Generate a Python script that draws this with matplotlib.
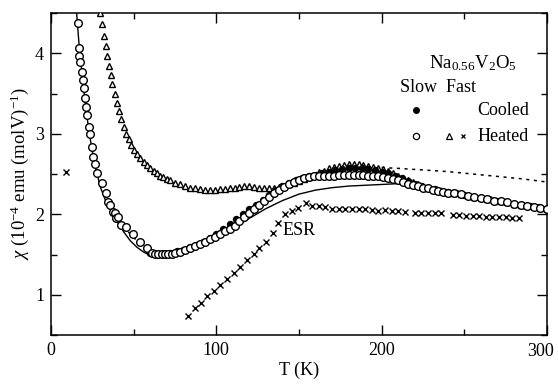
import matplotlib
matplotlib.use("Agg")
import matplotlib.pyplot as plt
from matplotlib.ticker import MultipleLocator, FuncFormatter

plt.rcParams['font.family'] = ['Liberation Serif', 'DejaVu Serif']
plt.rcParams['mathtext.fontset'] = 'custom'
plt.rcParams['mathtext.rm'] = 'Liberation Serif'
plt.rcParams['mathtext.it'] = 'Liberation Serif:italic'

# Slow heated (open circles)
T_open = [16.1, 16.9, 17.2, 17.5, 18.5, 19.2, 19.9, 20.5, 21.1, 21.9, 22.7, 23.5, 24.5,
          25.5, 26.5, 27.8, 30.6, 33.0, 34.6, 35.6, 37.6, 38.6, 39.6, 40.6, 42.6, 45.6,
          49.6, 54.0, 58, 61, 63, 65, 67, 69, 71, 73, 75, 78, 81, 84, 87, 90, 93, 96, 99,
          102, 105, 108, 111, 114, 117, 120, 123, 126, 129, 132, 135, 138, 141, 144, 147,
          150, 153, 156, 159, 162, 165, 168, 171, 174, 177, 180, 183, 186, 189, 192, 195,
          198, 201, 204, 207, 210, 213, 216, 219, 222, 225, 228, 231, 234, 237, 240, 244,
          248, 252, 256, 260, 264, 268, 272, 276, 280, 284, 288, 292, 296, 300]
chi_open = [4.37, 4.07, 3.97, 3.89, 3.77, 3.67, 3.57, 3.44, 3.33, 3.23, 3.08, 3.00, 2.84,
            2.71, 2.63, 2.51, 2.39, 2.26, 2.15, 2.12, 2.03, 2.02, 1.95, 1.96, 1.87, 1.84,
            1.75, 1.66, 1.58, 1.52, 1.51, 1.51, 1.51, 1.51, 1.51, 1.51, 1.52, 1.53, 1.55,
            1.58, 1.60, 1.63, 1.66, 1.69, 1.72, 1.76, 1.79, 1.82, 1.86, 1.91, 1.96, 2.01,
            2.06, 2.11, 2.16, 2.21, 2.26, 2.30, 2.34, 2.37, 2.40, 2.43, 2.45, 2.46, 2.47,
            2.47, 2.48, 2.48, 2.48, 2.49, 2.49, 2.49, 2.49, 2.49, 2.49, 2.48, 2.48, 2.47,
            2.46, 2.45, 2.44, 2.42, 2.40, 2.38, 2.36, 2.35, 2.33, 2.32, 2.30, 2.29, 2.28,
            2.27, 2.26, 2.25, 2.23, 2.22, 2.20, 2.19, 2.17, 2.16, 2.15, 2.13, 2.12, 2.10,
            2.09, 2.08, 2.06]

# Slow cooled (filled circles)
T_fill = [60, 64, 68, 72, 76, 80, 84, 88, 92, 96, 100, 104, 108, 112, 116, 120, 124, 128,
          132, 136, 140, 144, 148, 152, 156, 160, 164, 168, 172, 176, 180, 184, 188, 192,
          196, 200, 204, 208, 212, 216, 220, 224, 228, 232, 236, 240, 245, 250, 255, 260,
          265, 270, 275, 280, 285, 290, 295, 300]
chi_fill = [1.52, 1.51, 1.51, 1.52, 1.54, 1.56, 1.59, 1.62, 1.66, 1.71, 1.76, 1.82, 1.88,
            1.94, 2.00, 2.06, 2.12, 2.18, 2.24, 2.30, 2.35, 2.39, 2.42, 2.45, 2.47, 2.49,
            2.51, 2.53, 2.55, 2.56, 2.57, 2.57, 2.57, 2.56, 2.55, 2.53, 2.51, 2.48, 2.45,
            2.41, 2.38, 2.35, 2.33, 2.31, 2.29, 2.28, 2.26, 2.24, 2.22, 2.20, 2.19, 2.17,
            2.15, 2.13, 2.12, 2.10, 2.09, 2.07]

# Fast heated (triangles)
T_tri = [29.5, 31, 32, 33, 34, 35, 36, 37, 38.5, 40, 41, 42.5, 44, 45.5, 47, 48.5, 50, 52,
         54, 56, 58, 60, 62, 64, 66, 68, 70, 72, 75, 78, 81, 84, 87, 90, 93, 96, 99, 102,
         105, 108, 111, 114, 117, 120, 123, 126, 129, 132, 135, 138, 141, 144, 147, 150,
         153, 156, 159, 162, 165, 168, 171, 174, 177, 180, 183, 186, 189, 192, 195, 198,
         201, 204, 207, 210, 213, 216, 219, 222, 225, 228, 231, 234, 237, 240, 244, 248,
         252, 256, 260, 264, 268, 272, 276, 280, 284, 288, 292, 296, 300]
chi_tri = [4.50, 4.36, 4.21, 4.09, 3.96, 3.84, 3.73, 3.62, 3.50, 3.38, 3.28, 3.18, 3.08,
           3.00, 2.93, 2.86, 2.80, 2.75, 2.70, 2.65, 2.61, 2.57, 2.54, 2.51, 2.48, 2.46,
           2.44, 2.42, 2.39, 2.37, 2.35, 2.33, 2.32, 2.31, 2.30, 2.30, 2.30, 2.31, 2.31,
           2.32, 2.33, 2.34, 2.35, 2.35, 2.34, 2.33, 2.32, 2.32, 2.33, 2.34, 2.35, 2.37,
           2.39, 2.41, 2.44, 2.46, 2.49, 2.52, 2.54, 2.57, 2.59, 2.60, 2.61, 2.62, 2.62,
           2.62, 2.61, 2.60, 2.59, 2.58, 2.56, 2.54, 2.51, 2.48, 2.45, 2.42, 2.40, 2.37,
           2.35, 2.33, 2.31, 2.30, 2.29, 2.28, 2.27, 2.25, 2.24, 2.22, 2.21, 2.19, 2.18,
           2.16, 2.15, 2.13, 2.12, 2.11, 2.10, 2.08, 2.07]

# Fast heated ESR (crosses)
T_esr = [9, 83, 87, 90.5, 94.5, 98.5, 102.5, 106.5, 110.5, 114.5, 118.5, 122.5, 126, 130,
         134, 137.5, 141.5, 146, 149.5, 154, 158, 162, 166, 170, 174, 178, 182, 186, 190,
         194, 198, 202, 206, 210, 214, 220, 224, 228, 232, 236, 243, 247, 251, 255, 259,
         263, 267, 271, 275, 279, 283]
chi_esr = [2.53, 0.74, 0.83, 0.90, 0.98, 1.05, 1.12, 1.20, 1.27, 1.35, 1.43, 1.51, 1.58,
           1.66, 1.77, 1.89, 2.00, 2.04, 2.08, 2.14, 2.10, 2.10, 2.09, 2.07, 2.07, 2.07,
           2.06, 2.07, 2.07, 2.05, 2.04, 2.05, 2.04, 2.04, 2.03, 2.02, 2.02, 2.02, 2.02,
           2.01, 1.99, 1.99, 1.98, 1.98, 1.98, 1.97, 1.97, 1.96, 1.96, 1.95, 1.95]

# Theory curves
T_fit = [15.5, 17, 19, 21, 23, 25, 27, 30, 33, 36, 40, 44, 48, 52, 56, 60, 64, 68, 72, 80,
         90, 100, 110, 120, 130, 140, 150, 160, 170, 180, 190, 200, 210, 220, 230, 240,
         260, 280, 300]
chi_fit = [4.50, 4.10, 3.70, 3.33, 3.03, 2.78, 2.57, 2.33, 2.17, 2.05, 1.91, 1.78, 1.67,
           1.59, 1.53, 1.49, 1.47, 1.47, 1.48, 1.52, 1.60, 1.70, 1.82, 1.95, 2.07, 2.17,
           2.25, 2.30, 2.33, 2.35, 2.36, 2.37, 2.38, 2.36, 2.32, 2.28, 2.20, 2.13, 2.07]

T_dot_lo = [40, 45, 50, 55, 60, 65]
chi_dot_lo = [1.95, 1.82, 1.71, 1.62, 1.55, 1.51]
T_dot_hi = [200, 210, 225, 240, 255, 270, 285, 300]
chi_dot_hi = [2.58, 2.57, 2.55, 2.53, 2.50, 2.47, 2.44, 2.40]

fig = plt.figure(figsize=(5.58, 3.85), dpi=100)
ax = fig.add_axes([51/558, 50/385, 496/558, 322/385])

ax.plot(T_fit, chi_fit, '-', color='black', lw=1.0, zorder=2)
ax.plot(T_dot_lo, chi_dot_lo, ':', color='black', lw=1.2, zorder=2)
ax.plot(T_dot_hi, chi_dot_hi, linestyle=(0, (2, 3)), color='black', lw=1.1, zorder=2)

ax.plot(T_tri, chi_tri, '^', mfc='white', mec='black', ms=5.0, mew=1.0, ls='none', zorder=3)
ax.plot(T_fill, chi_fill, 'o', mfc='black', mec='black', ms=4.5, mew=0.8, ls='none', zorder=3)
ax.plot(T_open, chi_open, 'o', mfc='white', mec='black', ms=5.5, mew=1.0, ls='none', zorder=4)
ax.plot(T_esr, chi_esr, 'x', color='black', ms=3.8, mew=1.0, ls='none', zorder=3)

ax.set_xlim(0, 300)
ax.set_ylim(0.5, 4.5)
ax.xaxis.set_major_locator(MultipleLocator(100))
ax.xaxis.set_minor_locator(MultipleLocator(50))
ax.yaxis.set_major_locator(MultipleLocator(1))
ax.yaxis.set_minor_locator(MultipleLocator(0.5))
ax.xaxis.set_major_formatter(FuncFormatter(lambda v, p: '' if v >= 299 else f'{v:.0f}'))
ax.tick_params(which='both', direction='in', top=True, right=True, labelsize=13, width=1.0)
ax.tick_params(which='major', length=7, pad=5)
ax.tick_params(which='minor', length=4)
for s in ax.spines.values():
    s.set_linewidth(1.1)

# last x tick label, nudged left so it stays inside the canvas
ax.annotate('300', xy=(300, 0.5), xycoords='data', xytext=(-5, -5.5),
            textcoords='offset points', ha='center', va='top', fontsize=13)

ax.set_xlabel('T (K)', fontsize=13, labelpad=2)
ax.set_ylabel(r'$\chi$ (10$^{-4}$ emu (molV)$^{-1}$)', fontsize=13.5, labelpad=3)

ax.text(282, 3.88, r'Na$_{0.56}$V$_2$O$_5$', fontsize=13.5, ha='right', va='center')
ax.text(211, 3.58, 'Slow  Fast', fontsize=13, ha='left', va='center')
ax.plot([221], [3.29], 'o', mfc='black', mec='black', ms=4.0)
ax.text(289, 3.29, 'Cooled', fontsize=13, ha='right', va='center')
ax.plot([221], [2.97], 'o', mfc='white', mec='black', ms=4.5, mew=0.9)
ax.plot([241], [2.97], '^', mfc='white', mec='black', ms=4.0, mew=0.9)
ax.plot([249], [2.97], 'x', color='black', ms=3.5, mew=0.9)
ax.text(289, 2.97, 'Heated', fontsize=13, ha='right', va='center')
ax.text(140, 1.80, 'ESR', fontsize=13, ha='left', va='center')

fig.savefig('out.png', dpi=100)
